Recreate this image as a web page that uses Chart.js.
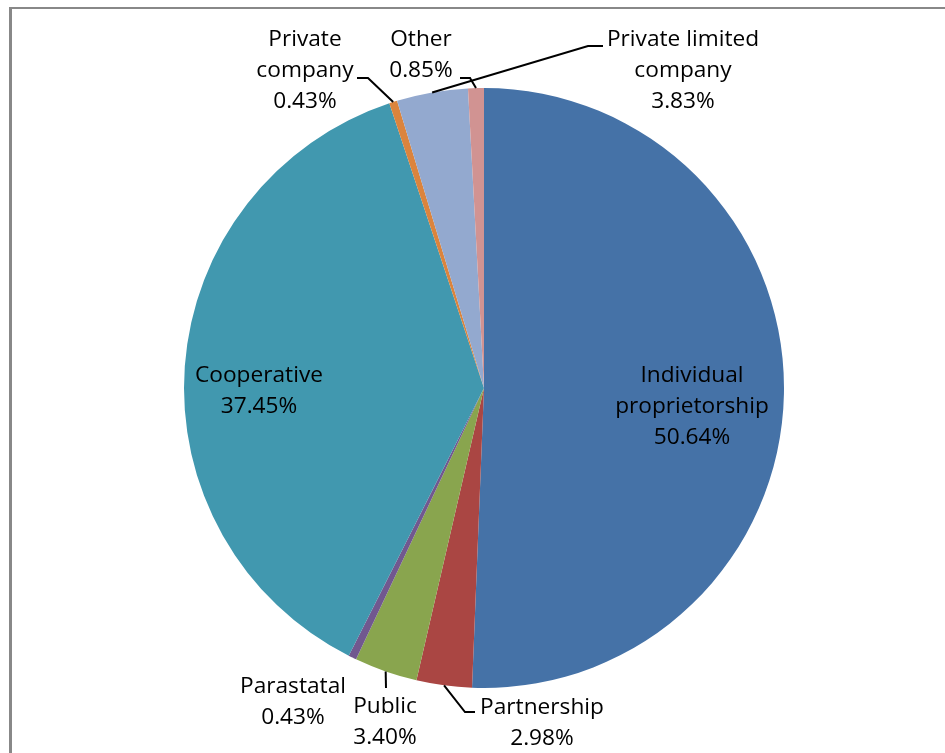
<!DOCTYPE html>
<html>
<head>
<meta charset="utf-8">
<script src="https://cdn.jsdelivr.net/npm/chart.js@4"></script>
<style>
  html, body { margin: 0; padding: 0; background: #fff; overflow: hidden; }
  canvas { display: block; }
</style>
</head>
<body>
<canvas id="ownership" width="945" height="753"></canvas>
<script>
// Chart data (clockwise from 12 o'clock)
const categories = ['Individual proprietorship', 'Partnership', 'Public', 'Parastatal',
                    'Cooperative', 'Private company', 'Private limited company', 'Other'];
const shares = [50.64, 2.98, 3.40, 0.43, 37.45, 0.43, 3.83, 0.85];
const labelLines = [['Individual', 'proprietorship'], ['Partnership'], ['Public'], ['Parastatal'],
                    ['Cooperative'], ['Private', 'company'], ['Private limited', 'company'], ['Other']];
const sliceColors = ['#4572A7', '#AA4643', '#89A54E', '#71588F', '#4198AF', '#DB843D', '#93A9CF', '#D19392'];

// Where each label sits (centre x, first line y) and the bends of its leader line
const labelSpots = [[692, 376], [542, 708], [385, 707], [293, 687], [259, 376], [305, 40], [683, 40], [421, 40]];
const leaderBends = [null, [[465, 712], [475, 712]], [[386, 688]], null, null,
                     [[368, 78], [357, 78]], [[588, 46], [603, 46]], [[470, 78], [460, 78]]];

const LINE_H = 31;
const TEXT_STRETCH = 1.08; // the original's text is a little wide

// Grey frame of the original figure
const framePlugin = {
    id: 'frame',
    beforeDraw(chart) {
        const ctx = chart.ctx;
        ctx.save();
        ctx.fillStyle = '#fff';
        ctx.fillRect(0, 0, chart.width, chart.height);
        ctx.fillStyle = '#888';
        ctx.fillRect(9, 7, 3, chart.height - 7);
        ctx.fillRect(9, 7, chart.width - 9, 2);
        ctx.restore();
    }
};

// Category + percentage labels, with leader lines starting at each slice's mid angle
const labelPlugin = {
    id: 'sliceLabels',
    afterDatasetsDraw(chart) {
        const ctx = chart.ctx;
        const arcs = chart.getDatasetMeta(0).data;
        arcs.forEach((arc, i) => {
            const bends = leaderBends[i];
            if (bends) {
                const mid = (arc.startAngle + arc.endAngle) / 2;
                ctx.save();
                ctx.beginPath();
                ctx.moveTo(arc.x + Math.cos(mid) * arc.outerRadius, arc.y + Math.sin(mid) * arc.outerRadius);
                bends.forEach(p => ctx.lineTo(p[0], p[1]));
                ctx.strokeStyle = '#000';
                ctx.lineWidth = 2;
                ctx.stroke();
                ctx.restore();
            }
            const lines = labelLines[i].concat([shares[i].toFixed(2) + '%']);
            const [x, y] = labelSpots[i];
            ctx.save();
            ctx.translate(x, y);
            ctx.scale(TEXT_STRETCH, 1);
            ctx.font = '21px "Open Sans"';
            ctx.fillStyle = '#000';
            ctx.textAlign = 'center';
            ctx.textBaseline = 'middle';
            lines.forEach((t, k) => ctx.fillText(t, 0, k * LINE_H));
            ctx.restore();
        });
    }
};

new Chart('ownership', {
    type: 'pie',
    data: {
        labels: categories,
        datasets: [{
            data: shares,
            backgroundColor: sliceColors,
            borderWidth: 0
        }]
    },
    options: {
        responsive: false,
        animation: false,
        layout: { padding: { top: 88, bottom: 65, left: 184, right: 161 } },
        plugins: {
            legend: { display: false },
            tooltip: { enabled: false }
        }
    },
    plugins: [framePlugin, labelPlugin]
});
</script>
</body>
</html>
